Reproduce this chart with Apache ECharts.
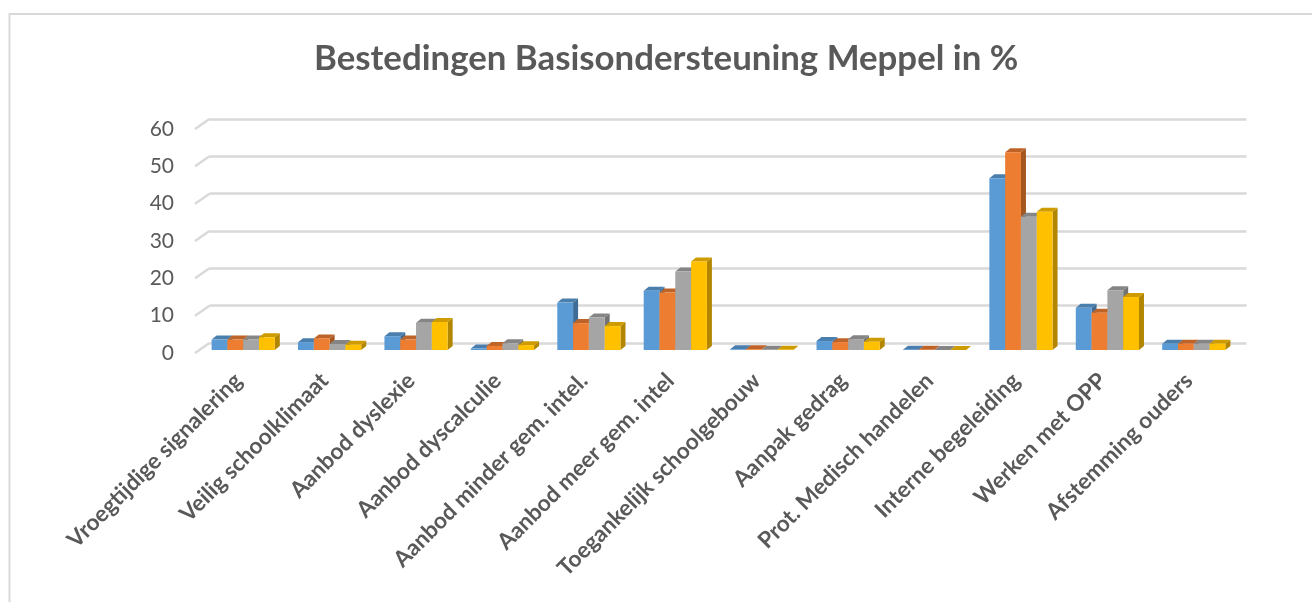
<!DOCTYPE html>
<html>
<head>
<meta charset="utf-8">
<script src="https://cdn.jsdelivr.net/npm/echarts@6/dist/echarts.min.js"></script>
<style>
html, body { margin: 0; padding: 0; background: #fff; }
#chart { width: 1312px; height: 602px; }
</style>
</head>
<body>
<div id="chart"></div>
<script>
const categories = ['Vroegtijdige signalering', 'Veilig schoolklimaat', 'Aanbod dyslexie', 'Aanbod dyscalculie',
  'Aanbod minder gem. intel.', 'Aanbod meer gem. intel', 'Toegankelijk schoolgebouw', 'Aanpak gedrag',
  'Prot. Medisch handelen', 'Interne begeleiding', 'Werken met OPP', 'Afstemming ouders']
const blue = [2.8, 2.1, 3.7, 0.4, 12.7, 15.9, 0.2, 2.4, 0.1, 46, 11.3, 1.7]
const orange = [2.8, 3.1, 2.8, 1.1, 7.2, 15.4, 0.2, 2.1, 0.1, 53, 10, 1.7]
const gray = [2.8, 1.6, 7.3, 1.8, 8.7, 21, 0.1, 2.9, 0, 35.7, 16, 1.7]
const yellow = [3.4, 1.4, 7.5, 1.3, 6.4, 23.7, 0.1, 2.2, 0, 37, 14.2, 1.7]
const yTicks = [0, 10, 20, 30, 40, 50, 60]

const chart = echarts.init(document.getElementById('chart'))

// front plane of the fake 3d box is grid 1, back wall is grid 0
const depthX = 14.5
const depthY = 10
const barW = 15.8
const barDepthX = 5
const barDepthY = 4

function bar3d(index, front, top, side) {
  return function (params, api) {
    const cat = api.value(0)
    const base = api.coord([cat, 0])
    const head = api.coord([cat, api.value(1)])
    const x = base[0] + 5 - barW * 2 + barW * index
    const y0 = base[1] - 3
    const y1 = head[1] - 3
    return {
      type: 'group',
      children: [
        { type: 'polygon', shape: { points: [[x + barW, y0], [x + barW + barDepthX, y0 - barDepthY], [x + barW + barDepthX, y1 - barDepthY], [x + barW, y1]] }, style: { fill: side } },
        { type: 'polygon', shape: { points: [[x, y1], [x + barDepthX, y1 - barDepthY], [x + barW + barDepthX, y1 - barDepthY], [x + barW, y1]] }, style: { fill: top } },
        { type: 'rect', shape: { x: x, y: y1, width: barW, height: y0 - y1 }, style: { fill: front } }
      ]
    }
  }
}

function barSeries(values, index, front, top, side) {
  return {
    type: 'custom',
    xAxisIndex: 1,
    yAxisIndex: 1,
    z: 5,
    renderItem: bar3d(index, front, top, side),
    encode: { x: 0, y: 1 },
    data: values.map((v, i) => [i, v])
  }
}

chart.setOption({
  animation: false,
  backgroundColor: '#fff',
  title: {
    text: 'Bestedingen Basisondersteuning Meppel in %',
    left: 309,
    top: 36,
    textStyle: { fontFamily: 'Lato', color: '#595959', fontSize: 34.8, fontWeight: 'bold' }
  },
  grid: [
    { left: 209.5, top: 119, width: 1037, height: 224 },
    { left: 195, top: 129, width: 1037, height: 224 }
  ],
  xAxis: [
    { type: 'category', gridIndex: 0, data: categories, axisLine: { show: false }, axisTick: { show: false }, axisLabel: { show: false } },
    {
      type: 'category', gridIndex: 1, data: categories,
      axisLine: { show: false }, axisTick: { show: false },
      axisLabel: { interval: 0, rotate: 45, margin: 24, fontFamily: 'Lato', fontSize: 22.6, fontWeight: 'bold', color: '#595959' }
    }
  ],
  yAxis: [
    {
      type: 'value', gridIndex: 0, min: 0, max: 60, interval: 10,
      axisLabel: { show: false }, axisLine: { show: false }, axisTick: { show: false },
      splitLine: { lineStyle: { color: '#d9d9d9', width: 2.5 } }
    },
    {
      type: 'value', gridIndex: 1, min: 0, max: 60, interval: 10,
      axisLine: { show: false }, axisTick: { show: false }, splitLine: { show: false },
      axisLabel: { margin: 21, fontFamily: 'Lato', fontSize: 21, color: '#595959', padding: [4, 0, 0, 0] }
    }
  ],
  series: [
    {
      // slanted bits on the left wall
      type: 'custom',
      xAxisIndex: 1,
      yAxisIndex: 1,
      z: 2,
      renderItem: function (params, api) {
        const y = api.coord([0, api.value(0)])[1]
        const x = params.coordSys.x
        return {
          type: 'line',
          shape: { x1: x, y1: y, x2: x + depthX, y2: y - depthY },
          style: { stroke: '#d9d9d9', lineWidth: 2.5 }
        }
      },
      encode: { y: 0 },
      data: yTicks.map(v => [v])
    },
    barSeries(blue, 0, '#5B9BD5', '#4A7EAD', '#3F6C96'),
    barSeries(orange, 1, '#ED7D31', '#BF6428', '#A55722'),
    barSeries(gray, 2, '#A5A5A5', '#858585', '#737373'),
    barSeries(yellow, 3, '#FFC000', '#CE9B00', '#B28600')
  ],
  graphic: [
    // chart frame, only the left and top edge are in the picture
    { type: 'polyline', silent: true, shape: { points: [[9.5, 602], [9.5, 14], [1312, 14]] }, style: { fill: 'none', stroke: '#d9d9d9', lineWidth: 2 } }
  ]
})
</script>
</body>
</html>
